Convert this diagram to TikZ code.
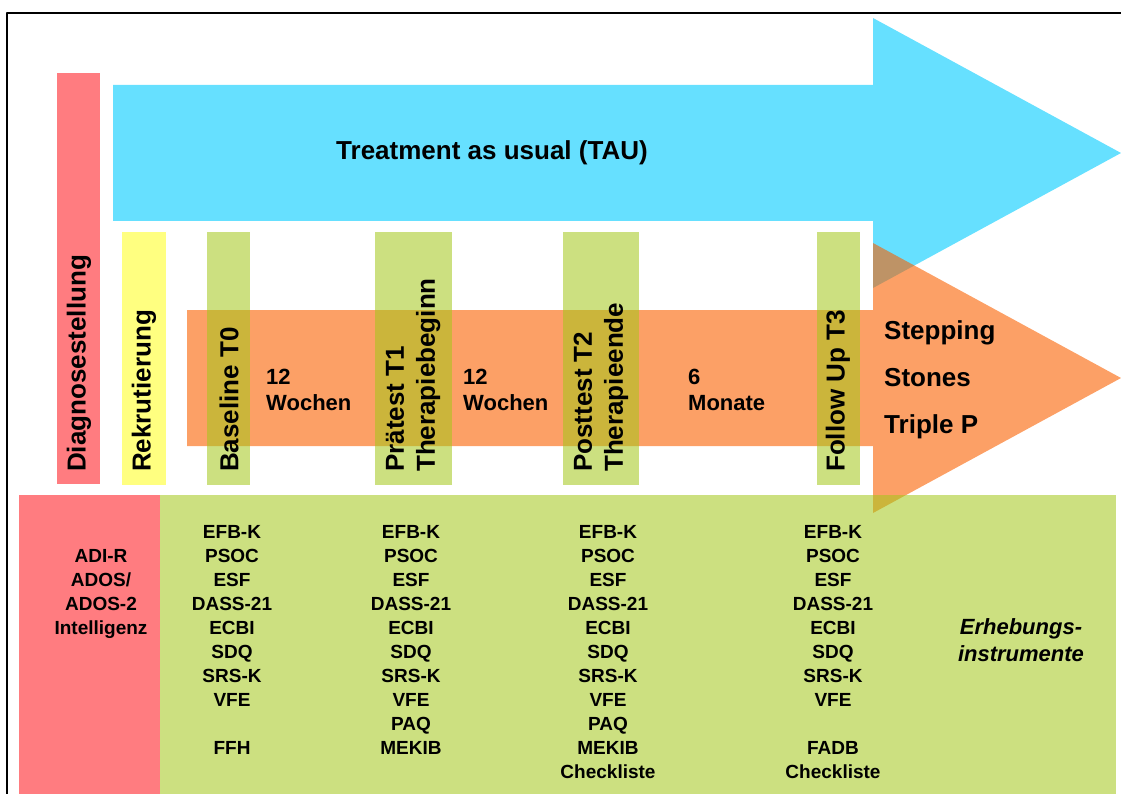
\documentclass[tikz,border=0pt]{standalone}
\usepackage{fontspec}
\setmainfont{Liberation Sans}
\definecolor{tau}{HTML}{66E0FF}
\definecolor{triple}{HTML}{FA6100}
\definecolor{mess}{HTML}{A2C718}
\definecolor{diag}{HTML}{FF7C80}
\definecolor{rekrut}{HTML}{FFFF80}

\begin{document}
\begin{tikzpicture}[
  x=1pt, y=-1pt,
  line cap=round, line join=round,
  every node/.style={inner sep=0pt, font=\bfseries},
  big/.style={font=\fontsize{26}{31}\selectfont\bfseries},
  span/.style={font=\fontsize{22}{26}\selectfont\bfseries, align=left, anchor=west},
  list/.style={font=\fontsize{19}{24}\selectfont\bfseries, align=center, anchor=north},
  phase/.style={big, rotate=90, anchor=west, align=left},
  arrowtau/.style={fill=tau},
  arrowtriple/.style={fill=triple, fill opacity=0.6},
  bar/.style={fill=mess, fill opacity=0.55},
]
\useasboundingbox (0,0) rectangle (1121,794);
\fill[arrowtau] (113,85) -- (873,85) -- (873,18) -- (1121,153) -- (873,288) -- (873,221) -- (113,221) -- cycle;
\fill[arrowtriple] (187,310) -- (873,310) -- (873,243) -- (1121,378) -- (873,513) -- (873,446) -- (187,446) -- cycle;
\fill[diag] (57,73) rectangle (100,484);
\fill[rekrut] (122,232) rectangle (166,485);
\fill[bar] (207,232) rectangle (250,485);
\fill[bar] (375,232) rectangle (452,485);
\fill[bar] (563,232) rectangle (639,485);
\fill[bar] (817,232) rectangle (860,485);
\fill[diag] (19,495) rectangle (160,800);
\fill[bar] (160,495) rectangle (1116,800);
\draw[line width=2pt] (7,800) -- (7,13) -- (1130,13);
\node[big] (tau) at (492,153) {Treatment as usual (TAU)};
\node[phase] (diagnose) at (79,472) {Diagnosestellung};
\node[phase] (rekrutierung) at (144,472) {Rekrutierung};
\node[phase] (t0) at (229,472) {Baseline T0};
\node[phase] (t1) at (413,472) {Prätest T1\\Therapiebeginn};
\node[phase] (t2) at (601,472) {Posttest T2\\Therapieende};
\node[phase] (t3) at (838,472) {Follow Up T3};
\node[span] (w1) at (266,390) {12\\Wochen};
\node[span] (w2) at (463,390) {12\\Wochen};
\node[span] (m6) at (688,390) {6\\Monate};
\node[align=left, anchor=west, font=\fontsize{26}{47}\selectfont\bfseries] (sst) at (884,380) {Stepping\\Stones\\Triple P};
\node[list] (c0) at (101,549) {ADI-R\\ADOS/\\ADOS-2\\Intelligenz};
\node[list] (c1) at (232,525) {EFB-K\\PSOC\\ESF\\DASS-21\\ECBI\\SDQ\\SRS-K\\VFE\\[24pt]FFH};
\node[list] (c2) at (411,525) {EFB-K\\PSOC\\ESF\\DASS-21\\ECBI\\SDQ\\SRS-K\\VFE\\PAQ\\MEKIB};
\node[list] (c3) at (608,525) {EFB-K\\PSOC\\ESF\\DASS-21\\ECBI\\SDQ\\SRS-K\\VFE\\PAQ\\MEKIB\\Checkliste};
\node[list] (c4) at (833,525) {EFB-K\\PSOC\\ESF\\DASS-21\\ECBI\\SDQ\\SRS-K\\VFE\\[24pt]FADB\\Checkliste};
\node[font=\fontsize{22}{27}\selectfont\bfseries\itshape, align=center] (erheb) at (1021,640) {Erhebungs-\\instrumente};
\end{tikzpicture}
\end{document}
